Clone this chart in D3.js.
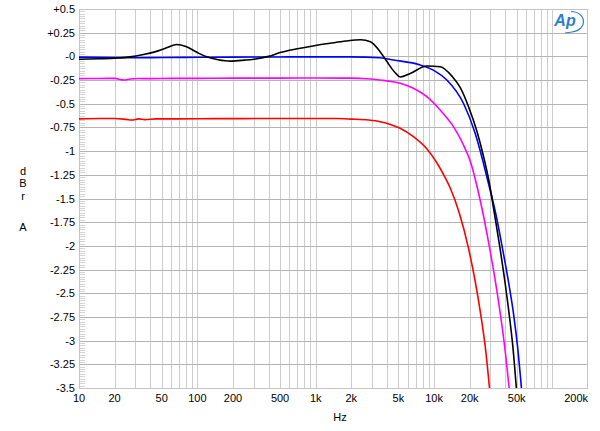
<!DOCTYPE html>
<html>
<head>
	<meta charset="utf-8">
	<title></title>
	<style>
		body { margin: 0; background: #fff; }
		text { font-family: "Liberation Sans", Arial, sans-serif; }
	</style>
</head>
<body>
	<svg id="container" height="431" width="600"></svg>
</body>
<script src="https://d3js.org/d3.v7.min.js"></script>
<script>
	// ---- data ----
	let xTickValues = [10, 20, 50, 100, 200, 500, 1000, 2000, 5000, 10000, 20000, 50000, 200000]
	let xTickLabels = ["10", "20", "50", "100", "200", "500", "1k", "2k", "5k", "10k", "20k", "50k", "200k"]
	let yTickValues = [0.5, 0.25, 0, -0.25, -0.5, -0.75, -1, -1.25, -1.5, -1.75, -2, -2.25, -2.5, -2.75, -3, -3.25, -3.5]
	let yTickLabels = ["+0.5", "+0.25", "-0", "-0.25", "-0.5", "-0.75", "-1", "-1.25", "-1.5", "-1.75", "-2", "-2.25", "-2.5", "-2.75", "-3", "-3.25", "-3.5"]

	// black trace
	let blackFreq = [10, 15, 20, 27, 35, 43, 55, 67, 80, 100, 120, 150, 190, 250, 300, 400, 500, 700, 1000, 1320, 1800, 2400, 2900, 3500, 4000, 4600, 5200, 6300, 8700, 11300, 14300, 16620, 19540, 23000, 26270, 29000, 32350, 35930, 39540, 43050, 46360, 49630]
	let blackDb = [-0.03, -0.025, -0.02, -0.005, 0.02, 0.045, 0.09, 0.125, 0.105, 0.04, -0.005, -0.035, -0.05, -0.04, -0.03, 0.0, 0.04, 0.08, 0.115, 0.138, 0.162, 0.175, 0.155, 0.05, -0.055, -0.16, -0.218, -0.18, -0.102, -0.109, -0.215, -0.328, -0.529, -0.788, -1.062, -1.305, -1.656, -2.009, -2.36, -2.712, -3.064, -3.503]

	// blue trace
	let blueFreq = [10, 20, 30, 50, 100, 200, 500, 1000, 2000, 3500, 4540, 7630, 10020, 12830, 17720, 22260, 26160, 28830, 33170, 37640, 42310, 46920, 50800, 54810]
	let blueDb = [-0.008, -0.012, -0.015, -0.012, -0.01, -0.008, -0.006, -0.005, -0.005, -0.015, -0.038, -0.091, -0.15, -0.249, -0.495, -0.812, -1.128, -1.34, -1.656, -2.009, -2.36, -2.712, -3.064, -3.503]

	// magenta trace
	let magentaFreq = [10, 15, 20, 24, 27, 32, 40, 60, 100, 200, 500, 1000, 2000, 2700, 3500, 5170, 6700, 8690, 11260, 14590, 17450, 20510, 22390, 25910, 29350, 32850, 36270, 39540, 43140]
	let magentaDb = [-0.235, -0.233, -0.232, -0.25, -0.238, -0.234, -0.235, -0.232, -0.232, -0.23, -0.23, -0.228, -0.23, -0.236, -0.249, -0.284, -0.337, -0.426, -0.566, -0.742, -0.917, -1.128, -1.305, -1.656, -2.009, -2.36, -2.712, -3.064, -3.503]

	// red trace
	let redFreq = [10, 15, 20, 25, 28, 32, 36, 45, 60, 100, 200, 500, 1000, 1500, 2000, 2800, 3500, 5170, 6700, 8610, 10620, 12510, 13730, 16370, 19420, 22170, 24730, 27090, 29450]
	let redDb = [-0.66, -0.655, -0.655, -0.665, -0.672, -0.66, -0.668, -0.66, -0.66, -0.658, -0.657, -0.655, -0.655, -0.656, -0.662, -0.672, -0.689, -0.759, -0.848, -0.97, -1.128, -1.287, -1.392, -1.656, -2.009, -2.36, -2.712, -3.064, -3.503]

	let svg = d3.select("#container")

	let plotLeft = 79, plotRight = 588, plotTop = 9, plotBottom = 388

	let x = d3.scaleLog().domain([10, 200000]).range([plotLeft, plotRight])
	let y = d3.scaleLinear().domain([0.5, -3.5]).range([plotTop, plotBottom])

	// vertical grid at every 1..9 of each decade
	let vLines = []
	for (let d = 10; d <= 100000; d *= 10)
		for (let m = 1; m <= 9; m++)
			if (d * m <= 100000) vLines.push(d * m)

	svg.append("g").selectAll("line")
		.data(vLines)
		.enter().append("line")
		.attr("x1", d => Math.round(x(d)) + 0.5).attr("x2", d => Math.round(x(d)) + 0.5)
		.attr("y1", plotTop).attr("y2", plotBottom)
		.attr("stroke", "#cdcdcd")
		.attr("stroke-width", 1)

	// minor ticks on the left edge
	let minor = d3.range(0, 161).map(i => 0.5 - i * 0.025)
	svg.append("g").selectAll("line")
		.data(minor)
		.enter().append("line")
		.attr("x1", plotLeft).attr("x2", plotLeft + 6)
		.attr("y1", d => Math.round(y(d)) + 0.5).attr("y2", d => Math.round(y(d)) + 0.5)
		.attr("stroke", "#d4d4d4")

	// horizontal grid
	svg.append("g").selectAll("line")
		.data(yTickValues)
		.enter().append("line")
		.attr("x1", plotLeft).attr("x2", plotRight)
		.attr("y1", d => Math.round(y(d)) + 0.5).attr("y2", d => Math.round(y(d)) + 0.5)
		.attr("stroke", "#b4b4b4")

	// frame
	svg.append("rect")
		.attr("x", plotLeft + 0.5).attr("y", plotTop + 0.5)
		.attr("width", plotRight - plotLeft - 1).attr("height", plotBottom - plotTop)
		.attr("fill", "none")
		.attr("stroke", "#c4c4c4")

	// tick labels
	svg.append("g").selectAll("text")
		.data(yTickValues)
		.enter().append("text")
		.attr("x", 75)
		.attr("y", d => y(d) + 4)
		.attr("text-anchor", "end")
		.attr("font-size", 11)
		.text((d, i) => yTickLabels[i])

	svg.append("g").selectAll("text")
		.data(xTickValues)
		.enter().append("text")
		.attr("x", d => x(d))
		.attr("y", 402)
		.attr("text-anchor", (d, i) => i == xTickValues.length - 1 ? "end" : "middle")
		.attr("font-size", 11)
		.text((d, i) => xTickLabels[i])

	svg.append("text")
		.attr("x", 340).attr("y", 421)
		.attr("text-anchor", "middle")
		.attr("font-size", 11)
		.text("Hz")

	// stacked axis title
	let yTitle = [["d", 175], ["B", 187], ["r", 200], ["A", 231]]
	svg.append("g").selectAll("text")
		.data(yTitle)
		.enter().append("text")
		.attr("x", 23).attr("y", d => d[1])
		.attr("text-anchor", "middle")
		.attr("font-size", 11)
		.text(d => d[0])

	// traces
	svg.append("clipPath").attr("id", "plotclip")
		.append("rect").attr("x", plotLeft).attr("y", plotTop)
		.attr("width", plotRight - plotLeft).attr("height", plotBottom - plotTop)

	let line = d3.line()
		.x(d => x(d[0]))
		.y(d => y(d[1]))
		.curve(d3.curveMonotoneX)

	let traces = [
		[redFreq, redDb, "#ff0000"],
		[magentaFreq, magentaDb, "#ff00ff"],
		[blueFreq, blueDb, "#0000ff"],
		[blackFreq, blackDb, "#000000"]
	]

	svg.append("g").attr("clip-path", "url(#plotclip)")
		.selectAll("path")
		.data(traces)
		.enter().append("path")
		.attr("d", t => line(t[0].map((f, i) => [f, t[1][i]])))
		.attr("fill", "none")
		.attr("stroke", t => t[2])
		.attr("stroke-width", 1.6)

	// logo
	let logo = svg.append("g")
	logo.append("text")
		.attr("x", 565).attr("y", 26)
		.attr("text-anchor", "middle")
		.attr("font-size", 16)
		.attr("font-style", "italic")
		.attr("font-weight", "bold")
		.attr("fill", "#2a80c8")
		.text("Ap")
	logo.append("path")
		.attr("d", "M571,11.5 C587,12 588,30 572,32 L565,33")
		.attr("fill", "none")
		.attr("stroke", "#2a80c8")
		.attr("stroke-width", 1.2)
</script>
</html>
